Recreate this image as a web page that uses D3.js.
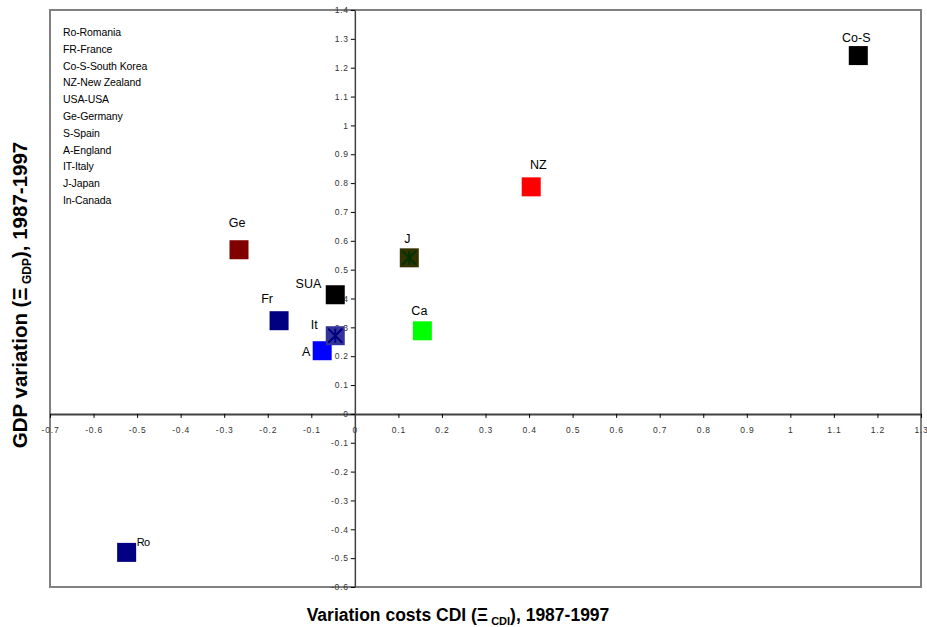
<html>
<script src="https://d3js.org/d3.v7.min.js"></script>
<body style="margin:0;background:#fff">
<script>
    // data
    var codes  = ['Ro', 'Fr', 'Co-S', 'NZ', 'SUA', 'Ge', 'A', 'It', 'J', 'Ca']
    var cdiVar = [-0.524, -0.174, 1.156, 0.405, -0.045, -0.266, -0.075, -0.045, 0.125, 0.155]
    var gdpVar = [-0.48, 0.323, 1.242, 0.787, 0.413, 0.569, 0.219, 0.271, 0.541, 0.288]
    var legendLines = ['Ro-Romania', 'FR-France', 'Co-S-South Korea', 'NZ-New Zealand', 'USA-USA',
                       'Ge-Germany', 'S-Spain', 'A-England', 'IT-Italy', 'J-Japan', 'In-Canada']
    var xTicks = [-0.7, -0.6, -0.5, -0.4, -0.3, -0.2, -0.1, 0, 0.1, 0.2, 0.3, 0.4, 0.5, 0.6, 0.7, 0.8, 0.9, 1, 1.1, 1.2, 1.3]
    var yTicks = [-0.6, -0.5, -0.4, -0.3, -0.2, -0.1, 0, 0.1, 0.2, 0.3, 0.4, 0.5, 0.6, 0.7, 0.8, 0.9, 1, 1.1, 1.2, 1.3, 1.4]

    // styles
    var fills   = ['#000080', '#000080', '#000000', '#ff0000', '#000000', '#800000', '#0000ff', '#333399', '#333300', '#00ff00']
    var stars   = [null, null, null, null, null, null, null, '#000080', '#003300', null]
    var labDx   = [10, -12, -2, 7, -14, -2, -16, -21, -2, -3]
    var labDy   = [-6, -18, -14, -18, -7, -23, 5, -7, -15, -16]
    var anchors = ['start', 'middle', 'middle', 'middle', 'end', 'middle', 'middle', 'middle', 'middle', 'middle']

    var width = 927, height = 627
    var pLeft = 50, pRight = 921, pTop = 10, pBottom = 587
    var font = '"Liberation Sans", Arial, sans-serif'
    var svg = d3.select('body').append('svg').attr('width', width).attr('height', height)
        .style('font-family', font)

    var x = d3.scaleLinear().domain([-0.7, 1.3]).range([pLeft, pRight])
    var y = d3.scaleLinear().domain([-0.6, 1.4]).range([pBottom, pTop])
    var fmt = function(d) { return String(+d.toFixed(1)) }

    // plot frame
    svg.append('rect').attr('x', pLeft).attr('y', pTop).attr('width', pRight - pLeft).attr('height', pBottom - pTop)
        .attr('fill', 'none').attr('stroke', '#808080').attr('stroke-width', 2)

    // x axis through y=0
    var xAxis = svg.append('g').attr('transform', `translate(0,${y(0)})`)
        .call(d3.axisBottom(x).tickValues(xTicks).tickSize(4).tickSizeOuter(0).tickFormat(fmt))
    xAxis.select('.domain').attr('stroke', '#404040').attr('stroke-width', 2)
    xAxis.selectAll('.tick line').attr('stroke', '#000')
    xAxis.selectAll('.tick text').attr('fill', '#333').style('font-size', '8.5px').style('letter-spacing', '0.8px')
        .style('font-family', font).attr('dy', '1.4em')

    // y axis through x=0
    var yAxis = svg.append('g').attr('transform', `translate(${x(0)},0)`)
        .call(d3.axisLeft(y).tickValues(yTicks).tickSize(4).tickSizeOuter(0).tickFormat(fmt))
    yAxis.select('.domain').attr('stroke', '#404040').attr('stroke-width', 1.5)
    yAxis.selectAll('.tick line').attr('stroke', '#000')
    yAxis.selectAll('.tick text').attr('fill', '#333').style('font-size', '8.5px').style('letter-spacing', '0.8px')
        .style('font-family', font).attr('x', -6)

    // legend text
    svg.selectAll('.leg').data(legendLines).enter().append('text')
        .attr('x', 63).attr('y', function(d, i) { return 36 + i * 16.8 })
        .style('font-size', '10.5px').style('letter-spacing', '-0.1px').attr('fill', '#000')
        .text(function(d) { return d })

    var sq = 19
    var pts = svg.append('g')
    codes.forEach(function(c, i) {
        var cx = x(cdiVar[i]), cy = y(gdpVar[i])
        pts.append('rect').attr('x', cx - sq / 2).attr('y', cy - sq / 2).attr('width', sq).attr('height', sq)
            .attr('fill', fills[i])
        if (stars[i]) {
            var s = 7
            pts.append('path')
                .attr('d', `M${cx - s},${cy - s}L${cx + s},${cy + s}M${cx + s},${cy - s}L${cx - s},${cy + s}M${cx},${cy - s}L${cx},${cy + s}`)
                .attr('stroke', stars[i]).attr('stroke-width', 2).attr('fill', 'none')
        }
        pts.append('text').attr('x', cx + labDx[i]).attr('y', cy + labDy[i])
            .attr('text-anchor', anchors[i])
            .style('font-size', c == 'Ro' ? '11px' : '12.5px')
            .style('letter-spacing', c == 'Ro' ? '-0.5px' : '0px')
            .text(c)
    })

    // axis titles
    var xt = svg.append('text').attr('x', 458).attr('y', 621).attr('text-anchor', 'middle')
        .style('font-size', '17.5px').style('font-weight', 'bold')
    xt.append('tspan').text('Variation costs CDI (Ξ')
    xt.append('tspan').attr('dy', 4).style('font-size', '11px').text(' CDI')
    xt.append('tspan').attr('dy', -4).text('), 1987-1997')

    var yt = svg.append('text').attr('transform', 'translate(27,295) rotate(-90)').attr('text-anchor', 'middle')
        .style('font-size', '20.5px').style('font-weight', 'bold')
    yt.append('tspan').text('GDP variation (Ξ')
    yt.append('tspan').attr('dy', 4).style('font-size', '12px').text(' GDP')
    yt.append('tspan').attr('dy', -4).text('), 1987-1997')
</script>
</body>
</html>
